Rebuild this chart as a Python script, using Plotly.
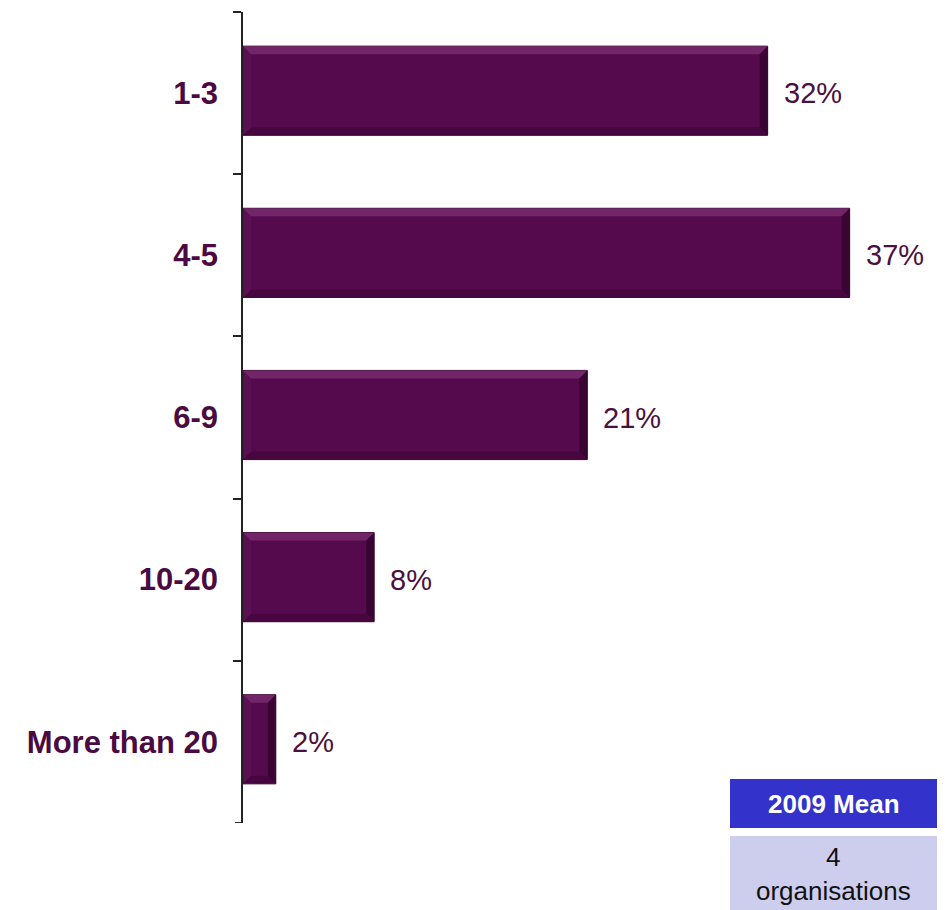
import plotly.graph_objects as go

# Number of people in role -> share of respondents (%)
categories = ["1-3", "4-5", "6-9", "10-20", "More than 20"]
shares = [32, 37, 21, 8, 2]
value_labels = ["32%", "37%", "21%", "8%", "2%"]

mean_title = "2009 Mean"
mean_value = "4<br>organisations"

FONT = "Arial, 'Liberation Sans', sans-serif"
BAR = "#560a4e"
LABEL = "#4b0a42"
AXIS = "#222222"

W, H = 948, 910
ML, MR, MT, MB = 243, 0, 12, 87
BARGAP = 0.45
X_MAX = 43.0

px_per_x = (W - ML - MR) / X_MAX
px_per_cat = (H - MT - MB) / len(categories)
half = (1 - BARGAP) / 2
lift = 2.5 / px_per_cat  # bars sit slightly above the category centre

fig = go.Figure()
fig.add_trace(go.Bar(
    x=shares, y=categories, orientation="h",
    width=2 * half, offset=-half - lift,
    marker=dict(color=BAR, line=dict(color="#3a0634", width=1)),
    hoverinfo="skip", showlegend=False,
))

# bevelled edges on each bar, in data coordinates
bx = 8 / px_per_x
by = 8 / px_per_cat
shapes = []
for i, v in enumerate(shares):
    t, b = i - half - lift, i + half - lift  # reversed axis: smaller index is higher
    e = min(bx, v / 2)
    faces = [
        (f"M0,{t} L{v},{t} L{v - e},{t + by} L{e},{t + by} Z", "rgba(150,70,140,0.45)"),
        (f"M0,{b} L{v},{b} L{v - e},{b - by} L{e},{b - by} Z", "rgba(40,0,35,0.3)"),
        (f"M0,{t} L{e},{t + by} L{e},{b - by} L0,{b} Z", "rgba(120,40,110,0.2)"),
        (f"M{v},{t} L{v - e},{t + by} L{v - e},{b - by} L{v},{b} Z", "rgba(25,0,20,0.45)"),
    ]
    for path, col in faces:
        shapes.append(dict(type="path", xref="x", yref="y", path=path,
                           fillcolor=col, line=dict(width=0), layer="above"))

annotations = []
for c, v, lab in zip(categories, shares, value_labels):
    annotations.append(dict(x=v, y=c, xref="x", yref="y", text=lab,
                            showarrow=False, xanchor="left", yanchor="middle",
                            xshift=14, font=dict(family=FONT, size=29, color="#4a1040")))


def py(pixel_y):
    return (H - MB - pixel_y) / (H - MT - MB)


def px(pixel_x):
    return (pixel_x - ML) / (W - ML - MR)


n = len(categories)

# closing tick at the bottom end of the category axis
shapes.append(dict(type="line", xref="paper", yref="y",
                   x0=px(ML - 8), x1=px(ML), y0=n - 0.5, y1=n - 0.5,
                   line=dict(color=AXIS, width=1.5)))

# mean summary box
shapes.append(dict(type="rect", xref="paper", yref="paper",
                   x0=px(730), x1=px(937), y0=py(828), y1=py(779),
                   fillcolor="#3333cc", line=dict(width=0), layer="above"))
shapes.append(dict(type="rect", xref="paper", yref="paper",
                   x0=px(730), x1=px(937), y0=py(912), y1=py(836),
                   fillcolor="#cdcdee", line=dict(width=0), layer="above"))
annotations.append(dict(x=px(833.5), y=py(804), xref="paper", yref="paper",
                        text=f"<b>{mean_title}</b>", showarrow=False,
                        xanchor="center", yanchor="middle",
                        font=dict(family=FONT, size=26, color="white")))
annotations.append(dict(x=px(833.5), y=py(874), xref="paper", yref="paper",
                        text=mean_value, showarrow=False,
                        xanchor="center", yanchor="middle",
                        font=dict(family=FONT, size=26, color="#111111")))

fig.update_layout(
    width=W, height=H,
    margin=dict(l=ML, r=MR, t=MT, b=MB, pad=0),
    paper_bgcolor="white", plot_bgcolor="white",
    bargap=BARGAP,
    shapes=shapes, annotations=annotations,
    xaxis=dict(range=[0, X_MAX], visible=False, fixedrange=True),
    yaxis=dict(
        categoryorder="array", categoryarray=categories,
        range=[n - 0.499, -0.501],
        showline=True, linecolor=AXIS, linewidth=1.5,
        ticks="outside", tickson="boundaries", ticklen=8,
        tickcolor=AXIS, tickwidth=1.5,
        ticklabelstandoff=17,
        tickfont=dict(family=FONT, size=31, color=LABEL, weight="bold"),
        showgrid=False, zeroline=False,
    ),
)

fig.write_html("out.html")
